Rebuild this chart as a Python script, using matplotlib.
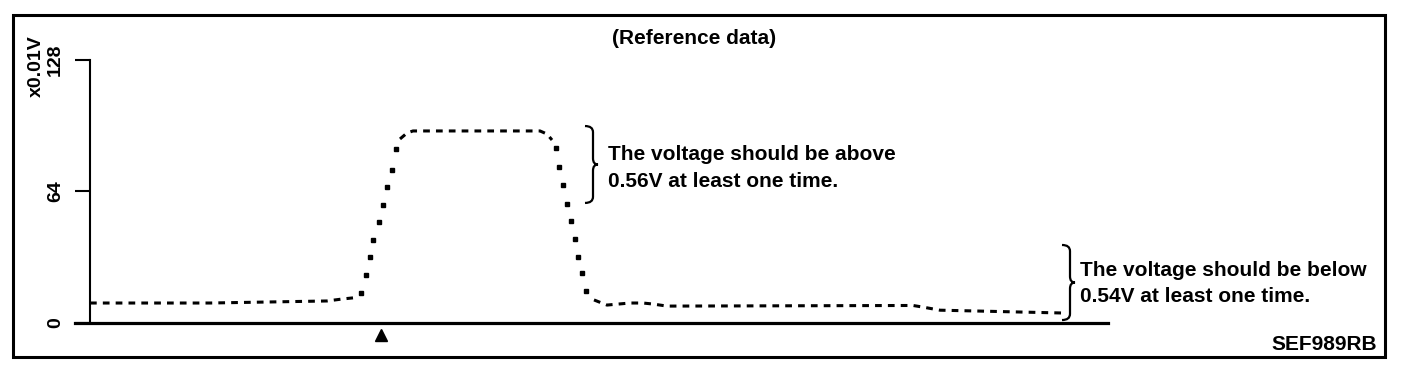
"""
Sensor voltage reference trace (x0.01V) with the two check windows.
"""

import matplotlib
matplotlib.use("Agg")
import matplotlib.pyplot as plt
from matplotlib.patches import Rectangle, PathPatch
from matplotlib.path import Path

# time axis is arbitrary (no tick labels on the original)
idle_before_t = [0.0, 12.0, 23.7, 25.3, 26.3]
idle_before_v = [9.5, 9.5, 10.5, 11.5, 12.0]

rise_t = [27.1, 27.6, 28.0, 28.3, 28.9, 29.3, 29.7, 30.2, 30.6]
rise_v = [14.4, 23.2, 32.0, 40.2, 49.0, 57.3, 66.0, 74.4, 84.6]

plateau_t = [31.0, 31.7, 32.3, 45.0, 45.7, 46.2]
plateau_v = [89.5, 92.4, 93.4, 93.4, 91.9, 89.0]

fall_t = [46.6, 46.9, 47.3, 47.7, 48.1, 48.5, 48.8, 49.2, 49.6]
fall_v = [85.0, 75.8, 67.0, 58.0, 49.5, 40.7, 32.0, 24.0, 15.4]

idle_after_t = [50.4, 51.7, 54.0, 55.3, 56.3, 57.7, 82.3, 83.3, 85.0, 88.7, 97.5]
idle_after_v = [11.0, 8.5, 9.5, 9.5, 9.0, 8.0, 8.3, 7.5, 6.0, 5.6, 4.6]

y_ticks = [0, 64, 128]
y_ticklabels = ["0", "64", "128"]
y_unit = "x0.01V"
title = "(Reference data)"
note_high = ["The voltage should be above", "0.56V at least one time."]
note_low = ["The voltage should be below", "0.54V at least one time."]
fig_code = "SEF989RB"
trigger_t = 29.1

FONT = "Liberation Sans"
FS = 15


def brace(ax, x_left, x_line, x_tip, y_top, y_bot, r):
    """Right-facing curly brace in data coords."""
    y_mid = (y_top + y_bot) / 2
    verts = [
        (x_left, y_top), (x_line, y_top), (x_line, y_top - r),
        (x_line, y_mid + r),
        (x_line, y_mid), (x_tip, y_mid),
        (x_line, y_mid), (x_line, y_mid - r),
        (x_line, y_bot + r),
        (x_line, y_bot), (x_left, y_bot),
    ]
    codes = [Path.MOVETO, Path.CURVE3, Path.CURVE3, Path.LINETO,
             Path.CURVE3, Path.CURVE3, Path.CURVE3, Path.CURVE3,
             Path.LINETO, Path.CURVE3, Path.CURVE3]
    ax.add_patch(PathPatch(Path(verts, codes), fill=False, lw=1.6,
                           edgecolor="black", clip_on=False))


fig = plt.figure(figsize=(14.08, 3.8), dpi=100)
ax = fig.add_axes([75 / 1408, 1 - 322.5 / 380, 1033 / 1408, 262.5 / 380])
ax.set_xlim(-1.5, 101.8)
ax.set_ylim(0, 128)

for s in ["top", "right"]:
    ax.spines[s].set_visible(False)
ax.spines["left"].set_position(("data", 0))
ax.spines["left"].set_linewidth(1.5)
ax.spines["bottom"].set_linewidth(2.3)
ax.set_xticks([])
ax.set_yticks(y_ticks)
ax.set_yticklabels(y_ticklabels, rotation=90, va="center",
                   fontfamily=FONT, fontweight="bold", fontsize=FS - 1)
ax.tick_params(axis="y", length=10.8, width=1.5, pad=8)

# trace: flat parts dashed, steep parts as single sample dots
dash_kw = dict(color="black", lw=2.2, dashes=(2.2, 2.0), solid_capstyle="butt")
ax.plot(idle_before_t, idle_before_v, **dash_kw)
ax.plot(plateau_t, plateau_v, **dash_kw)
ax.plot(idle_after_t, idle_after_v, **dash_kw)
dot_kw = dict(color="black", ls="none", marker="s", markersize=2.6)
ax.plot(rise_t, rise_v, **dot_kw)
ax.plot(fall_t, fall_v, **dot_kw)

ax.plot([trigger_t], [-6.1], marker="^", color="black", markersize=9,
        clip_on=False)

txt = dict(fontfamily=FONT, fontweight="bold", fontsize=FS, va="center",
           ha="left")
brace(ax, 49.5, 50.3, 50.8, 95.8, 58.3, 3.0)
ax.text(51.8, 82.0, note_high[0], **txt)
ax.text(51.8, 68.6, note_high[1], **txt)

brace(ax, 97.2, 98.0, 98.5, 37.8, 1.2, 3.0)
ax.text(99.0, 25.6, note_low[0], **txt)
ax.text(99.0, 12.9, note_low[1], **txt)

fig.text(36 / 1408, 1 - 66 / 380, y_unit, rotation=90, ha="center",
         va="center", fontfamily=FONT, fontweight="bold", fontsize=FS - 1)
fig.text(694 / 1408, 1 - 39 / 380, title, ha="center", va="center",
         fontfamily=FONT, fontweight="bold", fontsize=FS)
fig.text(1377 / 1408, 1 - 345 / 380, fig_code, ha="right", va="center",
         fontfamily=FONT, fontweight="bold", fontsize=FS)

fig.patches.append(Rectangle((13 / 1408, 1 - 357 / 380), 1372 / 1408,
                             342 / 380, transform=fig.transFigure,
                             fill=False, lw=2.2, edgecolor="black"))

fig.savefig("out.png", dpi=100)
plt.close(fig)
